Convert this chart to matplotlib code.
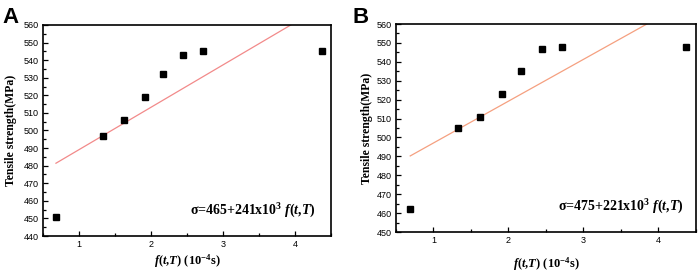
import numpy as np
from matplotlib import pyplot as plt
from matplotlib.ticker import MultipleLocator

plt.rcParams['mathtext.fontset'] = 'custom'
plt.rcParams['mathtext.rm'] = 'Liberation Serif:bold'
plt.rcParams['mathtext.it'] = 'Liberation Serif:bold:italic'
plt.rcParams['mathtext.bf'] = 'Liberation Serif:bold'

# 数据
x_a = [0.68, 1.33, 1.63, 1.91, 2.17, 2.45, 2.72, 4.37]
y_a = [451, 497, 506, 519, 532, 543, 545, 545]
x_b = [0.69, 1.33, 1.62, 1.91, 2.17, 2.45, 2.72, 4.37]
y_b = [462, 505, 511, 523, 535, 547, 548, 548]
fit_a = (465, 24.1)   # sigma = 465 + 241e3 * f, f in 1e-4 s
fit_b = (475, 22.1)
ylim_a = (440, 560)
ylim_b = (450, 560)

fig = plt.figure(figsize=(6.99, 2.73), dpi=100)
ax_a = fig.add_axes([0.0615, 0.1355, 0.412, 0.773])
ax_b = fig.add_axes([0.5665, 0.150, 0.429, 0.762])


def draw(ax, x, y, fit, ylim, color, text, xpad, ypad, tx):
    a, b = fit
    x0 = x[0]
    x1 = (ylim[1] - a) / b
    xs = np.array([x0, x1])
    ax.plot(xs, a + b * xs, color=color, lw=0.9)
    ax.plot(x, y, 's', color='black', ms=4.5)
    ax.set_xlim(0.5, 4.5)
    ax.set_ylim(*ylim)
    ax.xaxis.set_major_locator(MultipleLocator(1))
    ax.xaxis.set_minor_locator(MultipleLocator(0.5))
    ax.yaxis.set_major_locator(MultipleLocator(10))
    ax.yaxis.set_minor_locator(MultipleLocator(5))
    ax.tick_params(which='both', direction='in', labelsize=6.5, pad=3,
                   width=0.9)
    ax.tick_params(which='major', length=3.5)
    ax.tick_params(which='minor', length=2)
    for lab in ax.get_xticklabels() + ax.get_yticklabels():
        lab.set_family('Liberation Sans')
    for s in ax.spines.values():
        s.set_linewidth(1.2)
    ax.set_ylabel('Tensile strength(MPa)', family='Liberation Serif',
                  weight='bold', fontsize=8.5, labelpad=ypad)
    ax.set_xlabel(r'$\mathit{f(t{,}T)}$ (10$^{-4}$s)', family='Liberation Serif',
                  weight='bold', fontsize=9, labelpad=xpad)
    ax.text(tx, 0.12, text, transform=ax.transAxes, ha='right',
            va='center', fontsize=10, family='Liberation Serif',
            weight='bold')


draw(ax_a, x_a, y_a, fit_a, ylim_a, '#f28a8a',
     r'σ=465+241x10$^{3}$ $\mathit{f(t{,}T)}$', 2, 5, 0.945)
draw(ax_b, x_b, y_b, fit_b, ylim_b, '#f5a080',
     r'σ=475+221x10$^{3}$ $\mathit{f(t{,}T)}$', 7, 3, 0.96)

fig.text(0.003, 0.975, 'A', fontsize=16, weight='bold',
         family='Liberation Sans', va='top')
fig.text(0.504, 0.975, 'B', fontsize=16, weight='bold',
         family='Liberation Sans', va='top')

plt.savefig('out.png', dpi=100)
